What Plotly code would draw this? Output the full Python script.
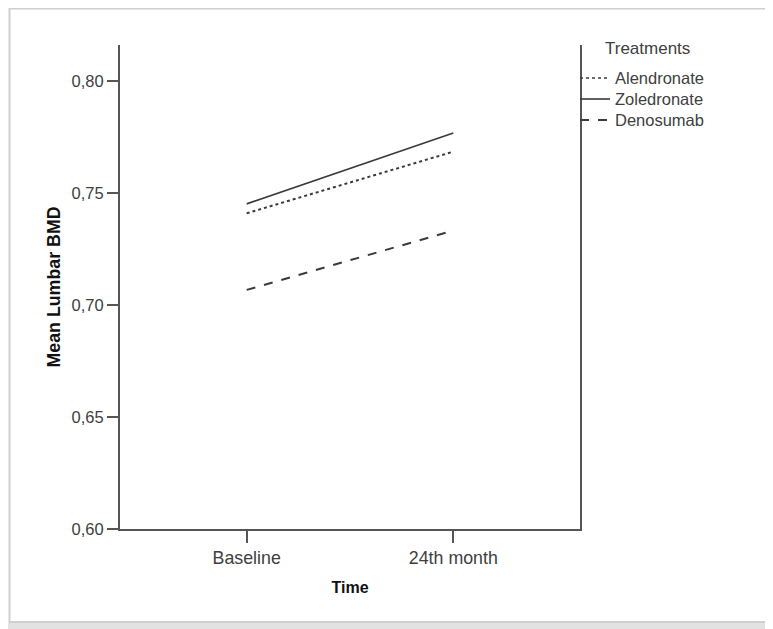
import plotly.graph_objects as go

time_points = ["Baseline", "24th month"]
treatments = ["Alendronate", "Zoledronate", "Denosumab"]
alendronate = [0.7409, 0.7684]
zoledronate = [0.7451, 0.7767]
denosumab = [0.7067, 0.7332]
y_ticks = [0.60, 0.65, 0.70, 0.75, 0.80]

series = [alendronate, zoledronate, denosumab]
dashes = ["dot", "solid", "dash"]
widths = [2, 1.6, 2]
LINE_COLOR = "#3a3a3a"

FONT = "Liberation Sans, Arial, sans-serif"
fig = go.Figure()
for name, vals, d, w in zip(treatments, series, dashes, widths):
    fig.add_trace(go.Scatter(x=[0, 1], y=vals, mode="lines", name=name,
                             line=dict(color=LINE_COLOR, width=w, dash=d)))

# page coords -> paper coords (page has an 8px body margin)
def px(x):
    return (x - 120) / 460

def py(y):
    return (529 - y) / 484

fig.update_layout(
    width=765, height=621,
    margin=dict(l=112, r=193, t=37, b=100),
    paper_bgcolor="white", plot_bgcolor="white",
    separators=",.",
    font=dict(family=FONT, size=16, color="#404040"),
    showlegend=False,
    xaxis=dict(
        range=[-0.613, 1.613], tickmode="array", tickvals=[0, 1], ticktext=time_points,
        showgrid=False, zeroline=False, showline=True, linecolor="#555555", linewidth=2,
        ticks="outside", ticklen=12, tickwidth=2, tickcolor="#555555",
        tickfont=dict(size=17.8, color="#404040"),
        title=dict(text="<b>Time</b>", font=dict(size=16, color="#111111"), standoff=14),
    ),
    yaxis=dict(
        range=[0.6, 0.816], tickmode="array", tickvals=y_ticks, tickformat=".2f",
        showgrid=False, zeroline=False, showline=True, mirror=True,
        linecolor="#555555", linewidth=2,
        ticks="outside", ticklen=11, tickwidth=2, tickcolor="#555555",
        tickfont=dict(size=16.5, color="#404040"),
        title=dict(text="<b>Mean Lumbar BMD</b>", font=dict(size=17.8, color="#111111"), standoff=6),
    ),
)

# legend drawn next to the plot (SPSS style)
legend_y = [78, 99, 120]
for name, d, w, ly in zip(treatments, dashes, widths, legend_y):
    fig.add_shape(type="line", xref="paper", yref="paper",
                  x0=px(580), x1=px(610), y0=py(ly), y1=py(ly),
                  line=dict(color=LINE_COLOR, width=w if d != "dot" else 1.6, dash=d))
    fig.add_annotation(xref="paper", yref="paper", x=px(613), y=py(ly),
                       xanchor="left", yanchor="middle", showarrow=False,
                       text=name, font=dict(size=16.5, color="#404040"))
fig.add_annotation(xref="paper", yref="paper", x=px(603), y=py(49),
                   xanchor="left", yanchor="middle", showarrow=False,
                   text="Treatments", font=dict(size=17, color="#404040"))

# outer frame of the exported picture
fig.add_shape(type="rect", xref="paper", yref="paper",
              x0=px(9.5), x1=px(800), y0=py(622), y1=py(8.5),
              line=dict(color="#cfcfcf", width=2), layer="below")
fig.add_shape(type="rect", xref="paper", yref="paper",
              x0=px(0), x1=px(800), y0=py(640), y1=py(623),
              fillcolor="#e2e2e2", line=dict(width=0), layer="below")

fig.write_html("out.html")
